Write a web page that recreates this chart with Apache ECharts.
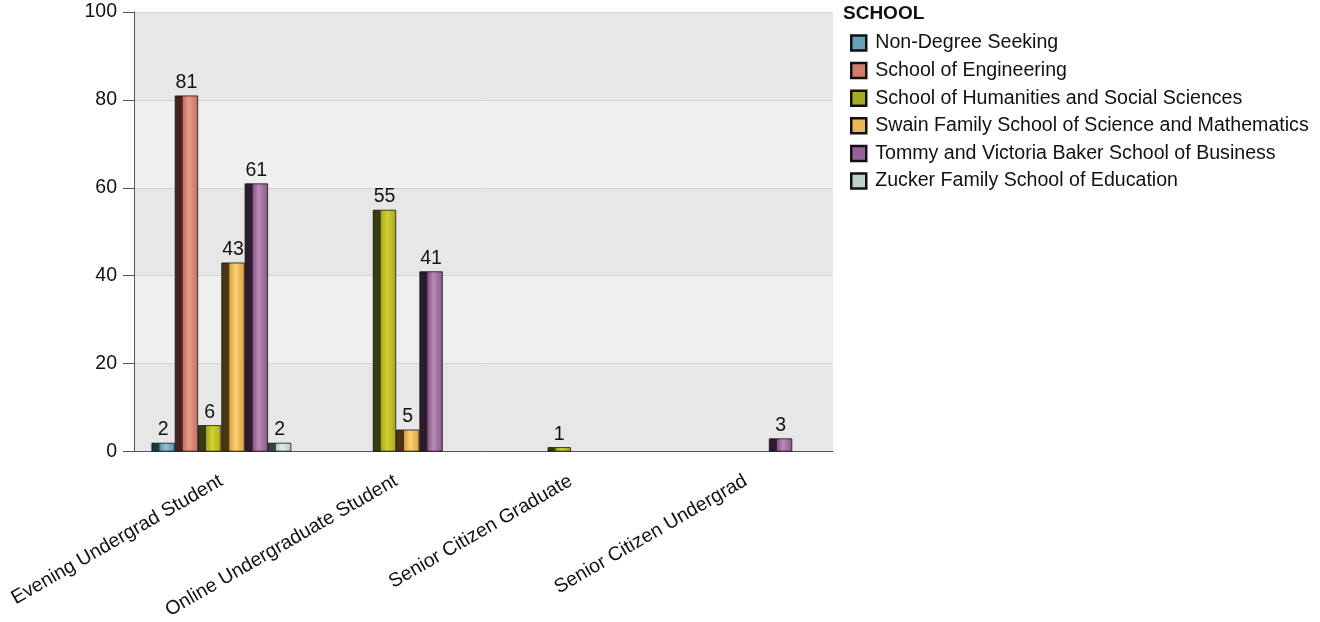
<!DOCTYPE html>
<html><head><meta charset="utf-8">
<script src="https://cdn.jsdelivr.net/npm/echarts@6/dist/echarts.min.js"></script>
<style>html,body{margin:0;padding:0;background:#fff;}#c{width:1320px;height:622px;}</style>
</head><body><div id="c"></div>
<script>
const categories = ['Evening Undergrad Student','Online Undergraduate Student','Senior Citizen Graduate','Senior Citizen Undergrad'];
const seriesNames = ['Non-Degree Seeking','School of Engineering','School of Humanities and Social Sciences','Swain Family School of Science and Mathematics','Tommy and Victoria Baker School of Business','Zucker Family School of Education'];
const nonDegree   = [2, null, null, null];
const engineering = [81, null, null, null];
const humanities  = [6, 55, 1, null];
const swain       = [43, 5, null, null];
const business    = [61, 41, null, 3];
const zucker      = [2, null, null, null];
const yTicks = [0, 20, 40, 60, 80, 100];

const palette = [
  {dark:'#1e3440', base:'#5a93ad', light:'#8fc3d8', legend:'#6a9fb8'},
  {dark:'#45231d', base:'#c4705f', light:'#e89a88', legend:'#d27c6c'},
  {dark:'#3a3a10', base:'#a6a81c', light:'#d2d232', legend:'#a8ac24'},
  {dark:'#4a3614', base:'#dca040', light:'#f8d274', legend:'#eab85a'},
  {dark:'#2c1c2e', base:'#885686', light:'#b88ab8', legend:'#96609a'},
  {dark:'#384444', base:'#b0c8c4', light:'#e4eeec', legend:'#bcd0cc'}
];
const values = [nonDegree, engineering, humanities, swain, business, zucker];
const FONT = 'Liberation Sans, Arial, sans-serif';
const FS = 19.5;

function grad(p){
  return new echarts.graphic.LinearGradient(0,0,1,0,[
    {offset:0, color:p.dark},{offset:0.32, color:p.dark},
    {offset:0.36, color:p.base},{offset:0.6, color:p.light},{offset:1, color:p.base}
  ]);
}

const series = seriesNames.map((n,i)=>({
  name:n, type:'bar', data: values[i],
  barGap:'0%', barCategoryGap:'20%',
  itemStyle:{color:grad(palette[i]), borderColor:'#111', borderWidth:0.8},
  label:{show:true, position:'top', distance:3, color:'#111', fontSize:FS, fontFamily:FONT},
  emphasis:{disabled:true}
}));

const chart = echarts.init(document.getElementById('c'));
chart.setOption({
  animation:false,
  textStyle:{fontFamily:FONT},
  graphic:[{type:'text', left:843, top:4, style:{text:'SCHOOL', font:'bold 19px '+FONT, fill:'#111'}}],
  legend:{
    orient:'vertical', left:845, top:28, itemWidth:15, itemHeight:15, itemGap:7.6,
    icon:'rect',
    textStyle:{fontSize:19.6, color:'#111', fontFamily:FONT, padding:[0,0,0,4]},
    data: seriesNames.map((n,i)=>({name:n, itemStyle:{color:palette[i].legend, borderColor:'#111', borderWidth:2.5}}))
  },
  grid:{left:134, top:12, right:1320-833, bottom:622-455, containLabel:false},
  xAxis:{
    type:'category', data:categories,
    axisLine:{lineStyle:{color:'#555', width:1}},
    axisTick:{alignWithLabel:true, length:10, lineStyle:{color:'#555'}},
    axisLabel:{rotate:30, margin:28, fontSize:FS, color:'#111', fontFamily:FONT, interval:0}
  },
  yAxis:{
    type:'value', min:0, max:100, interval:20,
    axisLine:{show:true, lineStyle:{color:'#555'}},
    axisTick:{show:true, length:11, lineStyle:{color:'#555'}},
    axisLabel:{margin:17, fontSize:FS, color:'#111', fontFamily:FONT,
      formatter:v=> yTicks.includes(v)? String(v):''},
    splitLine:{show:true, lineStyle:{color:'#d2d2d2'}},
    splitArea:{show:true, areaStyle:{color:['#e7e7e7','#efefef']}}
  },
  series: series
});
</script></body></html>
